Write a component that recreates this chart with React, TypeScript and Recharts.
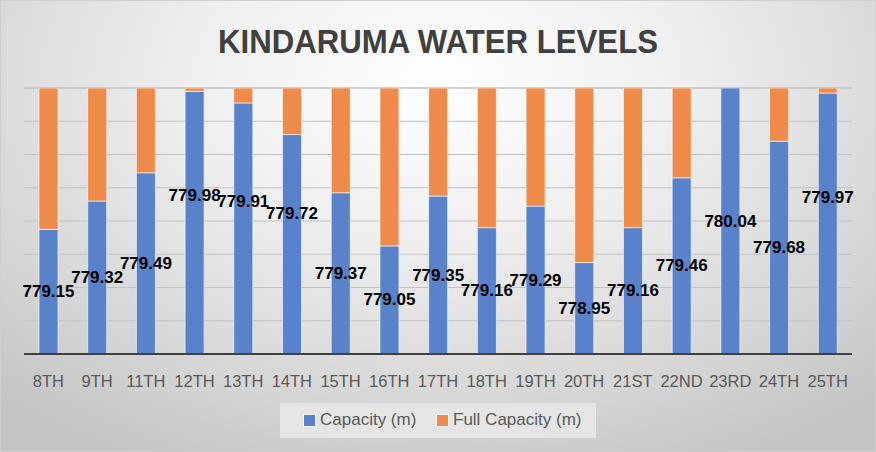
import React from 'react';
import { BarChart, Bar, XAxis, YAxis, CartesianGrid, LabelList } from 'recharts';

const categories = ['8TH', '9TH', '11TH', '12TH', '13TH', '14TH', '15TH', '16TH', '17TH', '18TH', '19TH', '20TH', '21ST', '22ND', '23RD', '24TH', '25TH'];
const capacity = [779.15, 779.32, 779.49, 779.98, 779.91, 779.72, 779.37, 779.05, 779.35, 779.16, 779.29, 778.95, 779.16, 779.46, 780.04, 779.68, 779.97];
const fullCapacity = [0.89, 0.72, 0.55, 0.06, 0.13, 0.32, 0.67, 0.99, 0.69, 0.88, 0.75, 1.09, 0.88, 0.58, 0.0, 0.36, 0.07];
const axisMin = 778.4;
const axisMax = 780.0;
const yTicks = [0, 0.2, 0.4, 0.6, 0.8, 1.0, 1.2, 1.4, 1.6];

// manual label nudges seen in the reference (px, upward negative)
const labelNudge: Record<string, number> = { '12TH': -27, '13TH': -27, '14TH': -31, '25TH': -26 };

const data = categories.map((name, i) => ({
  name,
  cap: +(capacity[i] - axisMin).toFixed(4),
  full: fullCapacity[i],
  capLabel: capacity[i].toFixed(2),
}));

const BLUE = '#5A82CA';
const ORANGE = '#EE8B4A';
const TEXT = '#595959';

const CapLabel = (props: any) => {
  const { x, y, width, height, value, index } = props;
  const name = categories[index] ?? '';
  const nudge = labelNudge[name] ?? 0;
  return (
    <text
      x={Number(x) + Number(width) / 2}
      y={Number(y) + Number(height) / 2 + nudge}
      textAnchor="middle"
      dominantBaseline="central"
      fill="#000"
      fontWeight="bold"
      fontSize={17}
      fontFamily="'Liberation Sans', Arial, sans-serif"
    >
      {value}
    </text>
  );
};

export default function App() {
  return (
    <div
      style={{
        position: 'absolute',
        left: 0,
        top: 0,
        width: 876,
        height: 452,
        overflow: 'hidden',
        background: 'radial-gradient(ellipse 75% 95% at 50% 18%, #ffffff 0%, #f0f0f0 35%, #d6d6d6 75%, #c4c4c4 100%)',
        boxShadow: 'inset 0 0 0 1px #cfcfcf',
      }}
    >
      <svg width={876} height={80} style={{ position: 'absolute', left: 0, top: 0 }}>
        <text
          x={438}
          y={53}
          textAnchor="middle"
          fontFamily="'Liberation Sans', Arial, sans-serif"
          fontWeight="bold"
          fontSize={34}
          fill="#404040"
          textLength={440}
          lengthAdjust="spacingAndGlyphs"
        >
          KINDARUMA WATER LEVELS
        </text>
      </svg>
      <div style={{ position: 'absolute', left: 0, top: 0 }}>
        <BarChart
          width={876}
          height={452}
          data={data}
          margin={{ top: 88, right: 24, left: 24, bottom: 68 }}
          barSize={19}
        >
          <CartesianGrid vertical={false} stroke="#c2c2c2" strokeWidth={1.2} />
          <XAxis
            dataKey="name"
            height={30}
            tickLine={false}
            tickSize={0}
            tickMargin={21}
            axisLine={{ stroke: '#404040', strokeWidth: 2 }}
            tick={{ fill: TEXT, fontSize: 16.5, fontFamily: "'Liberation Sans', Arial, sans-serif" }}
            interval={0}
          />
          <YAxis hide domain={[0, axisMax - axisMin]} ticks={yTicks} allowDataOverflow type="number" />
          <Bar dataKey="cap" stackId="a" fill={BLUE} stroke="#ffffff" strokeOpacity={0.6} strokeWidth={1} isAnimationActive={false}>
            <LabelList dataKey="capLabel" content={CapLabel} />
          </Bar>
          <Bar dataKey="full" stackId="a" fill={ORANGE} stroke="#ffffff" strokeOpacity={0.6} strokeWidth={1} isAnimationActive={false} />
        </BarChart>
      </div>
      <div
        style={{
          position: 'absolute',
          left: 280,
          top: 403,
          width: 316,
          height: 35,
          background: '#e5e5e5',
          fontFamily: "'Liberation Sans', Arial, sans-serif",
          fontSize: 17,
          color: TEXT,
        }}
      >
        <div style={{ position: 'absolute', left: 24, top: 12, width: 11, height: 11, background: BLUE, boxShadow: '0 0 0 1px rgba(255,255,255,0.6)' }} />
        <div style={{ position: 'absolute', left: 40, top: 7, lineHeight: '20px', whiteSpace: 'nowrap' }}>Capacity (m)</div>
        <div style={{ position: 'absolute', left: 157, top: 12, width: 11, height: 11, background: ORANGE, boxShadow: '0 0 0 1px rgba(255,255,255,0.6)' }} />
        <div style={{ position: 'absolute', left: 173, top: 7, lineHeight: '20px', whiteSpace: 'nowrap' }}>Full Capacity (m)</div>
      </div>
    </div>
  );
}
